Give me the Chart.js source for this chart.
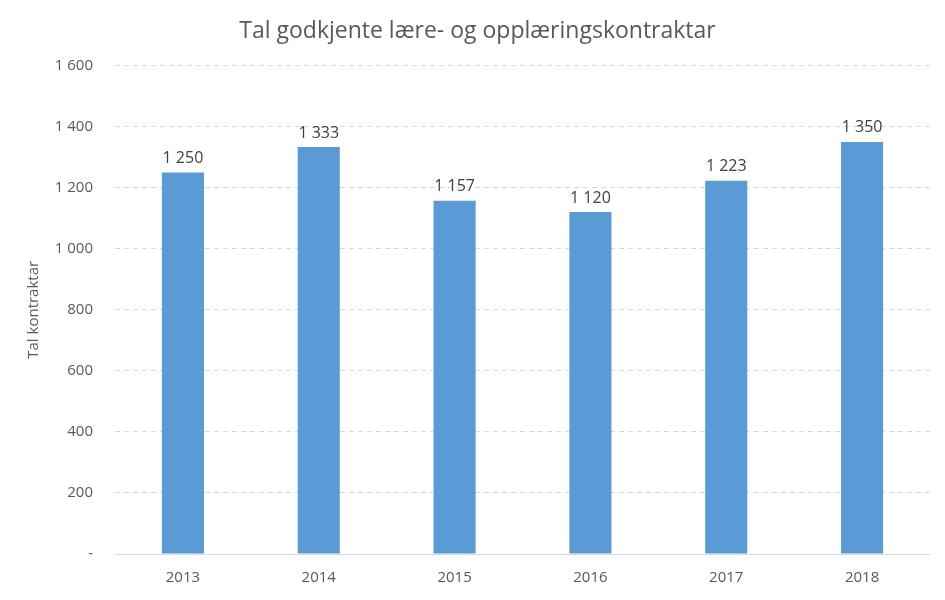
<!DOCTYPE html>
<html>
<head>
<meta charset="utf-8">
<script src="https://cdn.jsdelivr.net/npm/chart.js@4"></script>
<style>
    body { margin: 0; background: white; }
    #wrap { width: 945px; height: 600px; }
</style>
</head>
<body>
<div id="wrap"><canvas id="chart" width="945" height="600"></canvas></div>
<script>
const years = ['2013', '2014', '2015', '2016', '2017', '2018'];
const contracts = [1250, 1333, 1157, 1120, 1223, 1350];
const yTicks = [0, 200, 400, 600, 800, 1000, 1200, 1400, 1600];

const textColor = '#595959';
const fontFamily = '"Open Sans", "Liberation Sans", sans-serif';

function fmt(v) {
    if (v === 0) return '-';
    return String(v).replace(/\B(?=(\d{3})+(?!\d))/g, ' ');
}

// labels over the bars
const valueLabels = {
    id: 'valueLabels',
    afterDatasetsDraw(chart) {
        const ctx = chart.ctx;
        const meta = chart.getDatasetMeta(0);
        ctx.save();
        ctx.font = '16px ' + fontFamily;
        ctx.fillStyle = '#404040';
        ctx.textAlign = 'center';
        ctx.textBaseline = 'bottom';
        meta.data.forEach((bar, i) => {
            ctx.fillText(fmt(contracts[i]), bar.x, bar.y - 6);
        });
        ctx.restore();
    }
};

new Chart(document.getElementById('chart'), {
    type: 'bar',
    data: {
        labels: years,
        datasets: [{
            data: contracts,
            backgroundColor: '#5b9bd5',
            borderWidth: 0,
            categoryPercentage: 1,
            barPercentage: 0.31
        }]
    },
    options: {
        responsive: false,
        animation: false,
        layout: { padding: { left: 25, right: 15, top: 0, bottom: 0 } },
        plugins: {
            legend: { display: false },
            tooltip: { enabled: false },
            title: {
                display: true,
                text: 'Tal godkjente lære- og opplæringskontraktar',
                color: textColor,
                font: { family: fontFamily, size: 23, weight: 'normal' },
                padding: { top: 18, bottom: 20 }
            }
        },
        scales: {
            x: {
                grid: { display: false, drawTicks: false },
                border: { display: true, color: '#d9d9d9', width: 1 },
                ticks: { color: textColor, font: { family: fontFamily, size: 15 }, padding: 15 },
                afterFit(scale) { scale.height = 46; }
            },
            y: {
                min: 0,
                max: 1600,
                afterBuildTicks(scale) { scale.ticks = yTicks.map(v => ({ value: v })); },
                grid: { color: '#d9d9d9', drawTicks: false },
                border: { display: false, dash: [5, 4] },
                ticks: {
                    color: textColor,
                    font: { family: fontFamily, size: 15 },
                    padding: 22,
                    callback: v => fmt(v)
                },
                title: {
                    display: true,
                    text: 'Tal kontraktar',
                    color: textColor,
                    font: { family: fontFamily, size: 15 },
                    padding: { top: 0, bottom: 0 }
                },
                afterFit(scale) { scale.width = 90; }
            }
        }
    },
    plugins: [valueLabels]
});
</script>
</body>
</html>
